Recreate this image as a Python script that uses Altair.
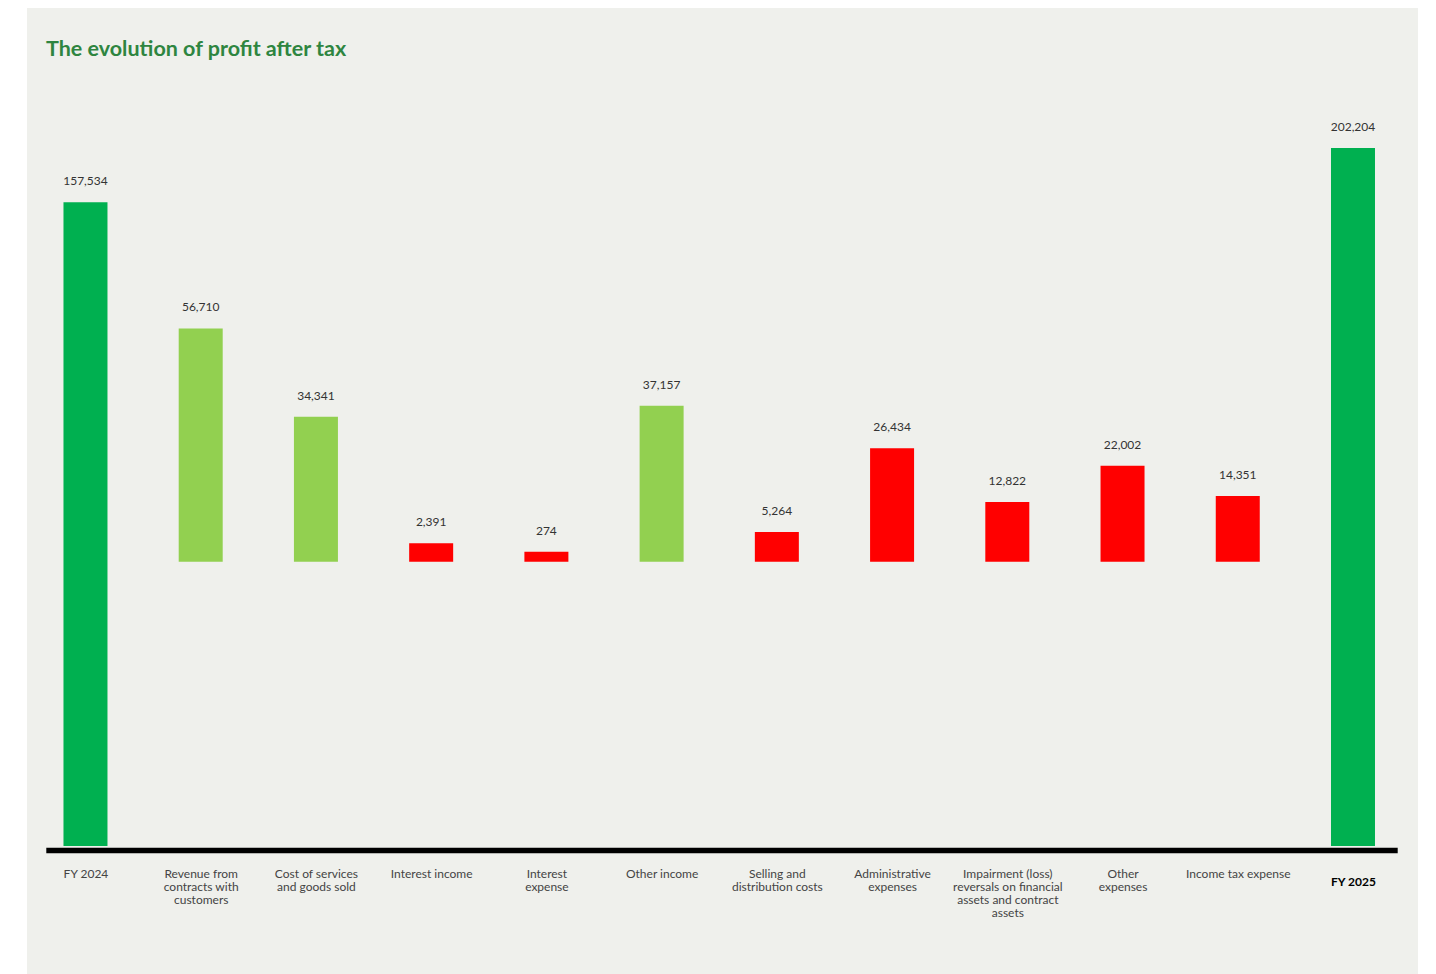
import altair as alt
import pandas as pd

# ---- data ----
categories = [
    "FY 2024",
    "Revenue from|contracts with|customers",
    "Cost of services|and goods sold",
    "Interest income",
    "Interest|expense",
    "Other income",
    "Selling and|distribution costs",
    "Administrative|expenses",
    "Impairment (loss)|reversals on financial|assets and contract|assets",
    "Other|expenses",
    "Income tax expense",
    "FY 2025",
]
values = [157534, 56710, 34341, 2391, 274, 37157, 5264, 26434, 12822, 22002, 14351, 202204]
kinds = ["total", "increase", "increase", "decrease", "decrease", "increase",
         "decrease", "decrease", "decrease", "decrease", "decrease", "total"]

kind_order = ["total", "increase", "decrease"]
kind_colors = ["#00b050", "#92d050", "#ff0000"]

df = pd.DataFrame({"category": categories, "value": values, "kind": kinds})

# scale framing of the original (stylised) drawing
FY_BASE = -372000
FY_DOMAIN = [-477300, 317400]
MID_BASE = -2260
MID_DOMAIN = [-106500, 137700]

W, H = 1391, 966
FONT = "Lato"

x_enc = alt.X(
    "category:N",
    sort=categories,
    scale=alt.Scale(type="point", range=[18.8, 1370.2], padding=0.364, align=0.473),
    axis=alt.Axis(
        title=None,
        orient="bottom",
        offset=-124,
        domainColor="#000000",
        domainWidth=5.5,
        ticks=False,
        tickSize=0,
        grid=False,
        labelAngle=0,
        labelExpr="split(datum.label, '|')",
        labelFont=FONT,
        labelFontSize=12,
        labelLineHeight=13.3,
        labelBaseline="alphabetic",
        labelPadding={"condition": {"test": "datum.value === 'FY 2025'", "value": 35}, "value": 27},
        labelColor={"condition": {"test": "datum.value === 'FY 2025'", "value": "#000000"}, "value": "#444444"},
        labelFontWeight={"condition": {"test": "datum.value === 'FY 2025'", "value": "bold"}, "value": "normal"},
        labelOverlap=False,
        labelBound=False,
        labelLimit=300,
    ),
)

color_enc = alt.Color("kind:N", scale=alt.Scale(domain=kind_order, range=kind_colors), legend=None)

base = alt.Chart(df)

fy_y = alt.Y("value:Q", scale=alt.Scale(domain=FY_DOMAIN, zero=False, nice=False), axis=None)
fy = base.transform_filter("datum.kind === 'total'")
fy_bars = fy.mark_bar(size=44).encode(x=x_enc, y=fy_y, y2=alt.datum(FY_BASE), color=color_enc)
fy_text = fy.mark_text(dy=-17, baseline="alphabetic", font=FONT, fontSize=12, color="#333333").encode(
    x=x_enc, y=fy_y, text=alt.Text("value:Q", format=",")
)

mid_y = alt.Y("value:Q", scale=alt.Scale(domain=MID_DOMAIN, zero=False, nice=False), axis=None)
mid = base.transform_filter("datum.kind !== 'total'")
mid_bars = mid.mark_bar(size=44).encode(x=x_enc, y=mid_y, y2=alt.datum(MID_BASE), color=color_enc)
mid_text = mid.mark_text(dy=-17, baseline="alphabetic", font=FONT, fontSize=12, color="#333333").encode(
    x=x_enc, y=mid_y, text=alt.Text("value:Q", format=",")
)

chart = (
    alt.layer(alt.layer(fy_bars, fy_text), alt.layer(mid_bars, mid_text))
    .resolve_scale(y="independent")
    .properties(
        width=W,
        height=H,
        autosize=alt.AutoSizeParams(type="none"),
        padding={"left": 19, "top": 0, "right": 0, "bottom": 0},
        background="#ffffff",
        title=alt.TitleParams(
            text="The evolution of profit after tax",
            anchor="start",
            frame="group",
            orient="top",
            offset=-69,
            dx=19,
            baseline="alphabetic",
            font=FONT,
            fontSize=21.5,
            fontWeight="bold",
            color="#2e8540",
        ),
    )
    .configure_view(fill="#eff0ec", strokeWidth=0)
)

chart.save("out.html", embed_options={"renderer": "svg", "actions": False})
